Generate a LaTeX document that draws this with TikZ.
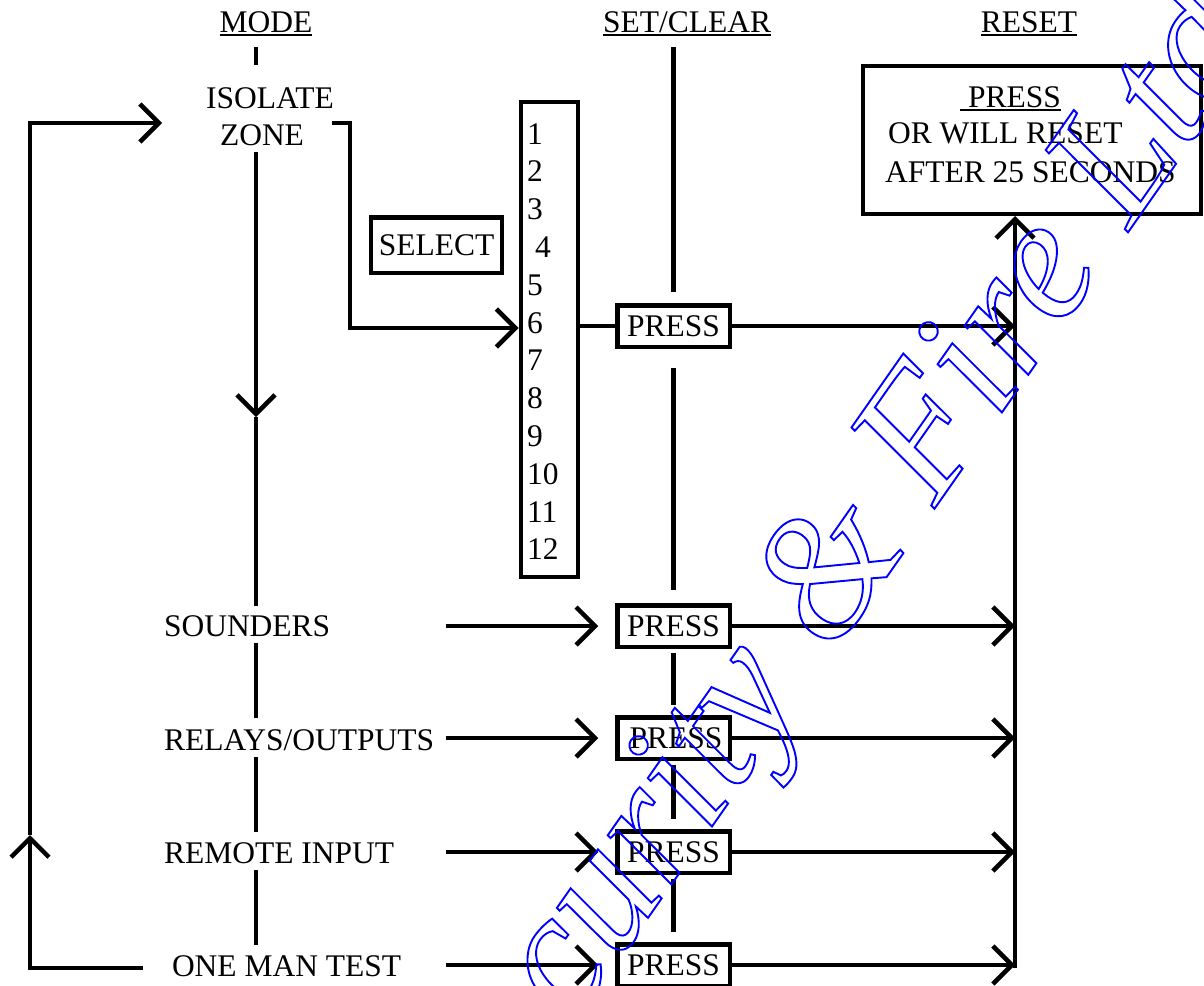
\documentclass[tikz,border=0pt]{standalone}
\usepackage{fontspec}
\setmainfont{Liberation Serif}
\usetikzlibrary{arrows.meta}
\begin{document}
\begin{tikzpicture}[x=1pt,y=-1pt,
  every node/.style={inner sep=0pt,outer sep=0pt,font=\fontsize{31.5}{37.8}\selectfont},
  ln/.style={line width=4.5pt},
  arr/.style={line width=4.5pt,-{Straight Barb[length=19pt,width=38pt,sharp]}},
  boxed/.style={draw,line width=4.5pt},
  pressbox/.style={boxed,minimum width=112.5pt,minimum height=41.5pt},
  ul/.style={line width=2pt},
  lbl/.style={anchor=base west},
  hdr/.style={anchor=base},
  wm/.style={rotate=55,anchor=base west,text=blue,font=\fontsize{175}{175}\selectfont\itshape}
]
\useasboundingbox (0,0) rectangle (1204,985);
% ---------- headers ----------
\node[hdr] (hmode) at (266,32) {MODE};
\node[hdr] (hset) at (687,32) {SET/CLEAR};
\node[hdr] (hreset) at (1029,32) {RESET};
\foreach \n in {hmode,hset,hreset}
  \draw[ul] ([yshift=-2.5pt]\n.base west) -- ([yshift=-2.5pt]\n.base east);
% ---------- mode column labels ----------
\node[hdr] (isoA) at (270,108) {ISOLATE};
\node[hdr] (isoB) at (262,145) {ZONE};
\node[lbl] (snd) at (164,636) {SOUNDERS};
\node[lbl] (rel) at (164,750) {RELAYS/OUTPUTS};
\node[lbl] (rem) at (164,863) {REMOTE INPUT};
\node[lbl] (one) at (172,976) {ONE MAN TEST};
% ---------- zone list ----------
\node[boxed,minimum width=57pt,minimum height=475pt] (list) at (549.5,339.5) {};
\foreach \i in {1,2,3,5,6,7,8,9,10,11,12}
  \node[lbl] (n\i) at (527,{144+37.8*(\i-1)}) {\i};
\node[lbl] (n4) at (535,{144+37.8*3}) {4};
\node[boxed,minimum width=131pt,minimum height=55.5pt] (select) at (436.5,245) {SELECT};
% ---------- press boxes ----------
\node[pressbox] (p6) at (673.5,326) {PRESS};
\node[pressbox] (pS) at (673.5,626) {PRESS};
\node[pressbox] (pR) at (673.5,738) {\hspace{5pt}PRESS};
\node[pressbox] (pRI) at (673.5,852) {PRESS};
\node[pressbox] (pO) at (673.5,965) {PRESS};
% ---------- reset box ----------
\node[boxed,minimum width=338pt,minimum height=148pt] (reset) at (1032,140) {};
\node[lbl] (rpress) at (968,107) {PRESS};
\draw[ul] ([xshift=-8pt,yshift=-3pt]rpress.base west) -- ([yshift=-3pt]rpress.base east);
\node[lbl] (rorwill) at (888,143) {OR WILL RESET};
\node[lbl] (rafter) at (885,182) {AFTER 25 SECONDS};
% ---------- MODE column line ----------
\coordinate (m1) at (256,47);  \coordinate (m2) at (256,65);
\coordinate (m3) at (256,152); \coordinate (m4) at (256,417); \coordinate (m5) at (256,606);
\coordinate (m6) at (256,643); \coordinate (m7) at (256,718);
\coordinate (m8) at (256,757); \coordinate (m9) at (256,832);
\coordinate (m10) at (256,870); \coordinate (m11) at (256,945);
\draw[ln] (m1) -- (m2);
\draw[arr] (m3) -- (m4);
\draw[ln] (m4) -- (m5);
\draw[ln] (m6) -- (m7);
\draw[ln] (m8) -- (m9);
\draw[ln] (m10) -- (m11);
% ---------- return loop ----------
\coordinate (lb) at (143,968);
\coordinate (lup) at (30,835);
\coordinate (lt) at (162,123);
\draw[arr] (lb) -| (lup);
\draw[arr] (lup) |- (lt);
% ---------- isolate zone to list ----------
\coordinate (iz) at (332,123);
\coordinate (izc) at (350,328);
\draw[arr] (iz) -| (izc) -- ([xshift=-2.5pt]list.west |- izc);
\draw[ln] (list.east |- p6) -- (p6.west);
% ---------- SET/CLEAR column ----------
\coordinate (s1) at (673.5,47);
\draw[ln] (s1) -- ([yshift=13pt]p6.north);
\draw[ln] ([yshift=-21pt]p6.south) -- ([yshift=15pt]pS.north);
\draw[ln] ([yshift=-6pt]pS.south) -- ([yshift=12pt]pR.north);
\draw[ln] ([yshift=-6pt]pR.south) -- ([yshift=12pt]pRI.north);
\draw[ln] ([yshift=-6pt]pRI.south) -- ([yshift=12pt]pO.north);
% ---------- inputs to press boxes ----------
\coordinate (aS) at (446,626);
\coordinate (aR) at (446,738);
\coordinate (aRI) at (446,852);
\coordinate (aO) at (446,965);
\draw[arr] (aS) -- ([xshift=-19pt]pS.west);
\draw[arr] (aR) -- ([xshift=-19pt]pR.west);
\draw[arr] (aRI) -- ([xshift=-19pt]pRI.west);
\draw[arr] (aO) -- ([xshift=-19pt]pO.west);
% ---------- RESET column ----------
\coordinate (rv) at (1015,968);
\draw[arr] (p6.east) -- (p6.east -| rv);
\draw[arr] (pS.east) -- (pS.east -| rv);
\draw[arr] (pR.east) -- (pR.east -| rv);
\draw[arr] (pRI.east) -- (pRI.east -| rv);
\draw[arr] (pO.east) -- (pO.east -| rv);
\draw[arr] (rv) -- ([yshift=-2pt]reset.south -| rv);
% ---------- watermark ----------
\node[wm] (wmark) at (935,508) {\special{pdf:literal direct 1 Tr 1.9 w}\llap{Security \& }Fire Ltd\special{pdf:literal direct 0 Tr}};
\end{tikzpicture}
\end{document}
